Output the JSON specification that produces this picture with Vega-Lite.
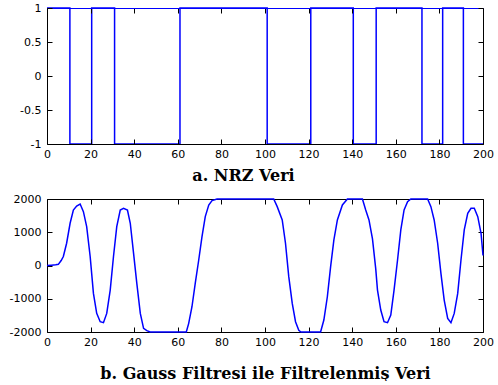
{
  "$schema": "https://vega.github.io/schema/vega-lite/v6.json",
  "background": "white",
  "padding": {"left": 9, "top": 2, "right": 0, "bottom": 0},
  "spacing": 10,
  "config": {
    "view": {"stroke": null},
    "axis": {
      "domainColor": "black",
      "domainWidth": 1,
      "tickColor": "black",
      "tickSize": -5,
      "tickWidth": 1,
      "grid": false,
      "labelFlush": false,
      "labelOverlap": false,
      "labelFont": "DejaVu Sans",
      "labelFontSize": 11,
      "labelColor": "black",
      "titleFont": "DejaVu Serif",
      "titleFontWeight": "bold",
      "titleFontSize": 16,
      "titleColor": "black"
    },
    "axisX": {"labelPadding": 9, "titlePadding": 8},
    "axisY": {"labelPadding": 11}
  },
  "datasets": {
    "nrz": [
      {"n": 0, "v": 1},
      {"n": 10.5, "v": -1},
      {"n": 20.5, "v": 1},
      {"n": 31, "v": -1},
      {"n": 61, "v": 1},
      {"n": 101, "v": -1},
      {"n": 121, "v": 1},
      {"n": 140.5, "v": -1},
      {"n": 151, "v": 1},
      {"n": 172, "v": -1},
      {"n": 181.5, "v": 1},
      {"n": 191, "v": -1},
      {"n": 200, "v": -1}
    ],
    "gauss": [
      {"n": 0, "v": 0}, {"n": 2, "v": 10}, {"n": 4, "v": 20}, {"n": 5.2, "v": 35},
      {"n": 6.5, "v": 150}, {"n": 7.5, "v": 270}, {"n": 9, "v": 670}, {"n": 10.6, "v": 1270},
      {"n": 12.1, "v": 1670}, {"n": 13.6, "v": 1790}, {"n": 15.2, "v": 1850}, {"n": 16.7, "v": 1620},
      {"n": 18.2, "v": 1170}, {"n": 19.8, "v": 270}, {"n": 21.3, "v": -840}, {"n": 22.8, "v": -1440},
      {"n": 24.4, "v": -1690}, {"n": 25.9, "v": -1720}, {"n": 27.4, "v": -1440}, {"n": 29, "v": -740},
      {"n": 30.5, "v": 270}, {"n": 32, "v": 1170}, {"n": 33.6, "v": 1670}, {"n": 35.1, "v": 1720},
      {"n": 36.9, "v": 1670}, {"n": 38.2, "v": 1270}, {"n": 39.7, "v": 370}, {"n": 41.2, "v": -540},
      {"n": 42.8, "v": -1440}, {"n": 44.3, "v": -1890}, {"n": 45.8, "v": -1960}, {"n": 47.3, "v": -2000},
      {"n": 63.9, "v": -2000}, {"n": 65, "v": -1740}, {"n": 66.5, "v": -1240}, {"n": 68, "v": -540},
      {"n": 69.6, "v": 165}, {"n": 71.1, "v": 870}, {"n": 72.6, "v": 1470}, {"n": 74.2, "v": 1820},
      {"n": 75.7, "v": 1950}, {"n": 78, "v": 2000}, {"n": 104, "v": 2000}, {"n": 105.6, "v": 1770},
      {"n": 107.9, "v": 1370}, {"n": 109.4, "v": 670}, {"n": 110.9, "v": -335}, {"n": 112.5, "v": -1140},
      {"n": 114, "v": -1690}, {"n": 115.5, "v": -1950}, {"n": 116.5, "v": -2000}, {"n": 125.5, "v": -2000},
      {"n": 127, "v": -1640}, {"n": 128.6, "v": -940}, {"n": 130.1, "v": -35}, {"n": 131.6, "v": 770},
      {"n": 133.2, "v": 1370}, {"n": 135.5, "v": 1820}, {"n": 137.8, "v": 2000}, {"n": 144.7, "v": 2000},
      {"n": 146.2, "v": 1670}, {"n": 147.7, "v": 1370}, {"n": 149.3, "v": 800}, {"n": 150.8, "v": -100},
      {"n": 151.6, "v": -740}, {"n": 153.1, "v": -1340}, {"n": 154.6, "v": -1690}, {"n": 156.2, "v": -1720},
      {"n": 157.7, "v": -1490}, {"n": 159.2, "v": -740}, {"n": 160.8, "v": 165}, {"n": 162.3, "v": 1070},
      {"n": 163.8, "v": 1670}, {"n": 165.4, "v": 1920}, {"n": 166.9, "v": 2000}, {"n": 174.6, "v": 2000},
      {"n": 176.1, "v": 1770}, {"n": 177.6, "v": 1370}, {"n": 179.2, "v": 670}, {"n": 180.7, "v": -235},
      {"n": 182.2, "v": -1040}, {"n": 183.8, "v": -1590}, {"n": 185.3, "v": -1720}, {"n": 186.8, "v": -1440},
      {"n": 188.4, "v": -840}, {"n": 189.9, "v": 165}, {"n": 191.4, "v": 1070}, {"n": 193, "v": 1570},
      {"n": 194.5, "v": 1720}, {"n": 196, "v": 1720}, {"n": 197.6, "v": 1470}, {"n": 199.1, "v": 970},
      {"n": 200, "v": 300}
    ]
  },
  "vconcat": [
    {
      "width": 436,
      "height": 136,
      "layer": [
        {
          "data": {"name": "nrz"},
          "mark": {"type": "line", "interpolate": "step-after", "color": "#0000ff", "strokeWidth": 1.5, "clip": false},
          "encoding": {
            "x": {"field": "n", "type": "quantitative", "scale": {"domain": [0, 200], "nice": false, "zero": false},
                  "axis": {"orient": "bottom", "values": [0, 20, 40, 60, 80, 100, 120, 140, 160, 180, 200], "labelExpr": "'' + datum.value", "title": "a. NRZ Veri", "titleX": 196, "zindex": 1}},
            "y": {"field": "v", "type": "quantitative", "scale": {"domain": [-1, 1], "nice": false, "zero": false},
                  "axis": {"orient": "left", "values": [-1, -0.5, 0, 0.5, 1], "labelExpr": "'' + datum.value", "title": null, "zindex": 1}}
          }
        },
        {
          "data": {"name": "nrz"},
          "mark": {"type": "point", "opacity": 0},
          "encoding": {
            "x": {"field": "n", "type": "quantitative", "scale": {"domain": [0, 200], "nice": false, "zero": false},
                  "axis": {"orient": "top", "values": [0, 20, 40, 60, 80, 100, 120, 140, 160, 180, 200], "labels": false, "title": null, "domainColor": "#0000ff", "zindex": 1}},
            "y": {"field": "v", "type": "quantitative", "scale": {"domain": [-1, 1], "nice": false, "zero": false},
                  "axis": {"orient": "right", "values": [-1, -0.5, 0, 0.5, 1], "labels": false, "title": null, "zindex": 1}}
          }
        }
      ]
    },
    {
      "width": 436,
      "height": 133,
      "layer": [
        {
          "data": {"name": "gauss"},
          "mark": {"type": "line", "color": "#0000ff", "strokeWidth": 1.5, "clip": false},
          "encoding": {
            "x": {"field": "n", "type": "quantitative", "scale": {"domain": [0, 200], "nice": false, "zero": false},
                  "axis": {"orient": "bottom", "values": [0, 20, 40, 60, 80, 100, 120, 140, 160, 180, 200], "labelExpr": "'' + datum.value", "title": "b. Gauss Filtresi ile Filtrelenmiş Veri", "titlePadding": 18}},
            "y": {"field": "v", "type": "quantitative", "scale": {"domain": [-2000, 2000], "nice": false, "zero": false},
                  "axis": {"orient": "left", "values": [-2000, -1000, 0, 1000, 2000], "labelExpr": "'' + datum.value", "title": null}}
          }
        },
        {
          "data": {"name": "gauss"},
          "mark": {"type": "point", "opacity": 0},
          "encoding": {
            "x": {"field": "n", "type": "quantitative", "scale": {"domain": [0, 200], "nice": false, "zero": false},
                  "axis": {"orient": "top", "values": [0, 20, 40, 60, 80, 100, 120, 140, 160, 180, 200], "labels": false, "title": null}},
            "y": {"field": "v", "type": "quantitative", "scale": {"domain": [-2000, 2000], "nice": false, "zero": false},
                  "axis": {"orient": "right", "values": [-2000, -1000, 0, 1000, 2000], "labels": false, "title": null}}
          }
        }
      ]
    }
  ]
}
